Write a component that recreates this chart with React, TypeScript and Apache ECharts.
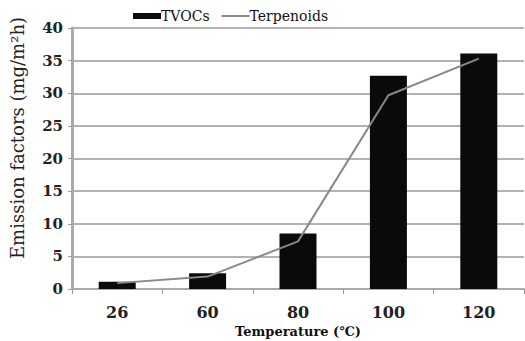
import React, { useEffect, useRef } from "react";
import * as echarts from "echarts";

const categories = ["26", "60", "80", "100", "120"];
const tvocs = [1.1, 2.4, 8.5, 32.7, 36.1];
const terpenoids = [0.9, 1.9, 7.3, 29.7, 35.3];
const yTicks = { min: 0, max: 40, interval: 5 };
const yTitle = "Emission factors (mg/m²h)";
const xTitle = "Temperature (℃)";

const serif = "'DejaVu Serif', 'Liberation Serif', serif";

export default function App() {
  const ref = useRef<HTMLDivElement>(null);
  useEffect(() => {
    const chart = echarts.init(ref.current!, null, { renderer: "svg" });
    chart.setOption({
      animation: false,
      backgroundColor: "#ffffff",
      textStyle: { fontFamily: serif },
      legend: {
        left: 128,
        top: 4,
        itemGap: 12,
        itemWidth: 28,
        itemHeight: 6,
        textStyle: { fontFamily: serif, fontSize: 14, color: "#111", padding: [0, 0, 0, -5] },
        data: [
          { name: "TVOCs", icon: "rect" },
          { name: "Terpenoids", icon: "path://M0,0 L28,0 L28,2 L0,2 Z", itemStyle: { color: "#888" } },
        ],
      },
      graphic: [
        {
          type: "text",
          x: 8,
          y: 138,
          rotation: Math.PI / 2,
          style: {
            text: yTitle,
            fontFamily: serif,
            fontSize: 18,
            fill: "#222",
            align: "center",
            verticalAlign: "top",
          },
        },
      ],
      grid: { left: 72, right: 1, top: 28, bottom: 52, outerBoundsMode: "none", containLabel: false },
      xAxis: {
        type: "category",
        data: categories,
        name: xTitle,
        nameLocation: "middle",
        nameGap: 35,
        nameTextStyle: { fontFamily: serif, fontSize: 13, fontWeight: "bold", color: "#111" },
        axisLine: { show: true, lineStyle: { color: "#aaa", width: 2 } },
        axisTick: { show: true, length: 5, lineStyle: { color: "#999" } },
        axisLabel: { fontFamily: serif, fontSize: 16, fontWeight: "bold", color: "#222", margin: 15 },
      },
      yAxis: {
        type: "value",
        min: yTicks.min,
        max: yTicks.max,
        interval: yTicks.interval,
        axisLine: { show: true, lineStyle: { color: "#aaa", width: 3 } },
        axisTick: { show: true, length: 4, inside: false, lineStyle: { color: "#999" } },
        axisLabel: { fontFamily: serif, fontSize: 15, fontWeight: "bold", color: "#222", margin: 9 },
        splitLine: { show: true, lineStyle: { color: "#999", width: 1.5 } },
      },
      series: [
        {
          name: "TVOCs",
          type: "bar",
          data: tvocs,
          barWidth: 37,
          itemStyle: { color: "#0a0a0a" },
        },
        {
          name: "Terpenoids",
          type: "line",
          data: terpenoids,
          symbol: "none",
          lineStyle: { color: "#888", width: 2 },
          itemStyle: { color: "#888" },
        },
      ],
    });
    return () => chart.dispose();
  }, []);
  return <div ref={ref} style={{ width: 525, height: 341, position: "absolute", left: 0, top: 0 }} />;
}
